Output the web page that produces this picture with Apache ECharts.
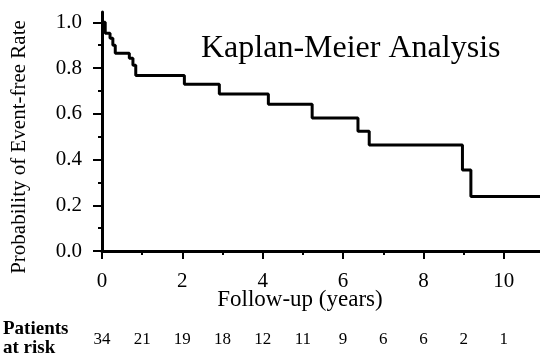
<!DOCTYPE html>
<html>
<head>
<meta charset="utf-8">
<script src="https://cdn.jsdelivr.net/npm/echarts@6/dist/echarts.min.js"></script>
<style>
  html, body { margin: 0; padding: 0; background: #fff; }
</style>
</head>
<body>
<div id="main" style="width:540px;height:357px;"></div>
<script>
// 随访时间（年）与无事件生存率（阶梯曲线的拐点）
var followUp = [0, 0.08, 0.2, 0.27, 0.33, 0.68, 0.77, 0.84, 2.05, 2.92, 4.14, 5.23, 6.37, 6.65, 8.97, 9.18, 10.9];
var eventFree = [1.0, 0.952, 0.93, 0.9, 0.865, 0.843, 0.812, 0.767, 0.729, 0.686, 0.642, 0.581, 0.524, 0.463, 0.354, 0.238, 0.238];

// 各年份的在险人数
var riskYears = [0, 1, 2, 3, 4, 5, 6, 7, 8, 9, 10];
var atRisk = [34, 21, 19, 18, 12, 11, 9, 6, 6, 2, 1];

// 刻度
var xMajorTicks = [0, 2, 4, 6, 8, 10];
var xMinorTicks = [1, 3, 5, 7, 9];
var yMajorTicks = [0, 0.2, 0.4, 0.6, 0.8, 1.0];
var yMinorTicks = [0.1, 0.3, 0.5, 0.7, 0.9];

var serif = "Liberation Serif";

var curve = [];
for (var i = 0; i < followUp.length; i++) {
  curve.push([followUp[i], eventFree[i]]);
}

var myChart = echarts.init(document.getElementById("main"), null, { renderer: "canvas" });

var option = {
  animation: false,
  backgroundColor: "#fff",
  title: {
    text: "Kaplan-Meier Analysis",
    left: 196,
    top: 28,
    textStyle: { fontFamily: serif, fontSize: 32, fontWeight: "normal", color: "#000" }
  },
  grid: { left: 102, right: 0, top: 12, bottom: 106 },
  xAxis: [
    {
      type: "value",
      min: 0,
      max: 10.9,
      axisLine: { show: true, lineStyle: { color: "#000", width: 3 } },
      axisTick: { show: true, inside: false, length: 8, customValues: xMajorTicks, lineStyle: { color: "#000", width: 2 } },
      axisLabel: { customValues: xMajorTicks, margin: 20, fontFamily: serif, fontSize: 21, color: "#000" },
      splitLine: { show: false }
    },
    {
      type: "value",
      min: 0,
      max: 10.9,
      position: "bottom",
      axisLine: { show: false },
      axisTick: { show: true, length: 4, customValues: xMinorTicks, lineStyle: { color: "#000", width: 2 } },
      // 在险人数写在次坐标轴的标签上
      axisLabel: {
        customValues: riskYears,
        margin: 80,
        fontFamily: serif,
        fontSize: 17,
        color: "#000",
        formatter: function (v) {
          var k = riskYears.indexOf(Math.round(v));
          return k >= 0 ? String(atRisk[k]) : "";
        }
      },
      splitLine: { show: false }
    }
  ],
  yAxis: [
    {
      type: "value",
      min: 0,
      max: 1.045,
      axisLine: { show: true, lineStyle: { color: "#000", width: 3 } },
      axisTick: { show: true, length: 9, customValues: yMajorTicks, lineStyle: { color: "#000", width: 2 } },
      axisLabel: {
        customValues: yMajorTicks,
        margin: 20,
        fontFamily: serif,
        fontSize: 21,
        color: "#000",
        formatter: function (v) { return v.toFixed(1); }
      },
      splitLine: { show: false }
    },
    {
      type: "value",
      min: 0,
      max: 1.045,
      position: "left",
      axisLine: { show: false },
      axisTick: { show: true, length: 4, customValues: yMinorTicks, lineStyle: { color: "#000", width: 2 } },
      axisLabel: { show: false },
      splitLine: { show: false }
    }
  ],
  graphic: [
    {
      type: "text",
      x: 300,
      y: 300,
      style: { text: "Follow-up (years)", fontFamily: serif, fontSize: 23, fill: "#000", textAlign: "center", textVerticalAlign: "middle" }
    },
    {
      type: "text",
      x: 19,
      y: 147,
      rotation: Math.PI / 2,
      style: { text: "Probability of Event-free Rate", fontFamily: serif, fontSize: 21, fill: "#000", textAlign: "center", textVerticalAlign: "middle" }
    },
    {
      type: "text",
      left: 3,
      top: 320,
      style: { text: "Patients\nat risk", fontFamily: serif, fontSize: 19, fontWeight: "bold", fill: "#000", lineHeight: 19 }
    }
  ],
  series: [
    {
      name: "Event-free",
      type: "line",
      step: "end",
      showSymbol: false,
      xAxisIndex: 0,
      yAxisIndex: 0,
      lineStyle: { color: "#000", width: 3 },
      data: curve
    }
  ]
};

myChart.setOption(option, true);
</script>
</body>
</html>
